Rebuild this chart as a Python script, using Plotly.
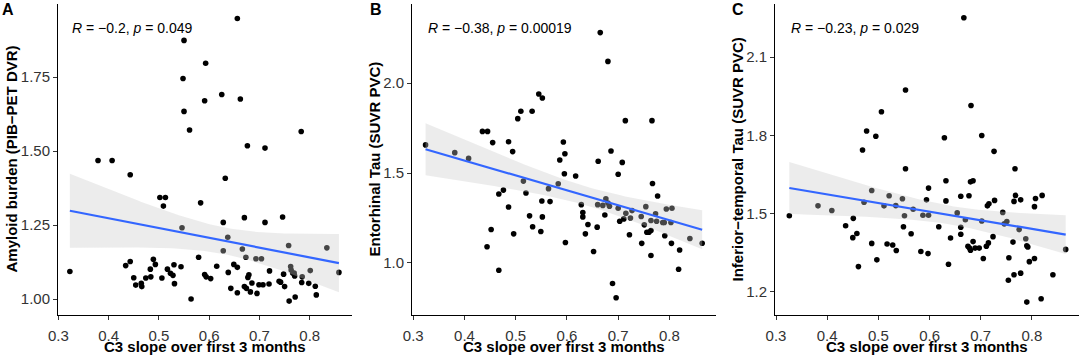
import numpy as np
import plotly.graph_objects as go

# ---------------- data ----------------
a_x = [0.379, 0.407, 0.443, 0.550, 0.548, 0.550, 0.561, 0.593, 0.591, 0.625, 0.656, 0.662, 0.676, 0.711, 0.783,
       0.632, 0.502, 0.513, 0.509, 0.583, 0.670, 0.628, 0.711, 0.746, 0.546, 0.637, 0.628, 0.666, 0.758, 0.834,
       0.673, 0.693, 0.704, 0.579, 0.323, 0.434, 0.443, 0.450, 0.454, 0.466, 0.474, 0.484, 0.489, 0.493, 0.483,
       0.506, 0.517, 0.523, 0.528, 0.530, 0.531, 0.544, 0.564, 0.591, 0.594, 0.603, 0.615, 0.638, 0.649, 0.656,
       0.643, 0.656, 0.670, 0.674, 0.677, 0.679, 0.682, 0.685, 0.695, 0.699, 0.707, 0.720, 0.719, 0.739, 0.742,
       0.748, 0.750, 0.759, 0.762, 0.763, 0.766, 0.769, 0.770, 0.771, 0.785, 0.784, 0.801, 0.798, 0.811, 0.813,
       0.858, 0.465]
a_y = [1.468, 1.468, 1.420, 1.874, 1.745, 1.634, 1.571, 1.797, 1.670, 1.691, 1.948, 1.676, 1.518, 1.510, 1.566,
       1.408, 1.343, 1.343, 1.314, 1.325, 1.275, 1.259, 1.259, 1.277, 1.241, 1.209, 1.163, 1.169, 1.181, 1.173,
       1.141, 1.136, 1.136, 1.141, 1.093, 1.113, 1.127, 1.072, 1.047, 1.042, 1.071, 1.075, 1.134, 1.117, 1.101,
       1.071, 1.101, 1.087, 1.080, 1.116, 1.052, 1.109, 1.000, 1.083, 1.075, 1.069, 1.111, 1.090, 1.117, 1.107,
       1.036, 1.021, 1.042, 1.036, 1.073, 1.082, 1.024, 1.054, 1.019, 1.048, 1.048, 1.095, 1.051, 1.060, 1.057,
       1.084, 1.042, 0.993, 1.110, 1.098, 1.088, 1.088, 1.078, 1.007, 1.075, 1.056, 1.096, 1.053, 1.043, 1.014,
       1.090, 1.053]

b_x = [0.324, 0.381, 0.408, 0.435, 0.445, 0.455, 0.486, 0.494, 0.504, 0.510, 0.532, 0.545, 0.552, 0.593, 0.596,
       0.586, 0.595, 0.617, 0.665, 0.680, 0.661, 0.686, 0.700, 0.708, 0.714, 0.766, 0.444, 0.452, 0.467, 0.467,
       0.476, 0.486, 0.496, 0.515, 0.520, 0.527, 0.533, 0.551, 0.552, 0.549, 0.564, 0.567, 0.583, 0.597, 0.628,
       0.631, 0.631, 0.636, 0.641, 0.652, 0.659, 0.660, 0.670, 0.676, 0.680, 0.674, 0.683, 0.689, 0.696, 0.700,
       0.703, 0.711, 0.715, 0.724, 0.722, 0.727, 0.745, 0.746, 0.751, 0.754, 0.756, 0.760, 0.764, 0.764, 0.764,
       0.767, 0.773, 0.775, 0.777, 0.787, 0.790, 0.791, 0.794, 0.803, 0.805, 0.804, 0.818, 0.820, 0.840, 0.864]
b_y = [1.656, 1.613, 1.581, 1.731, 1.731, 1.669, 1.674, 1.619, 1.802, 1.843, 1.843, 1.939, 1.917, 1.672, 1.607,
       1.572, 1.496, 1.483, 2.280, 2.120, 1.565, 1.622, 1.493, 1.559, 1.791, 1.791, 1.090, 1.186, 0.960, 1.383,
       1.405, 1.311, 1.162, 1.455, 1.389, 1.262, 1.201, 1.344, 1.256, 1.175, 1.413, 1.341, 1.440, 1.114, 1.324,
       1.280, 1.256, 1.162, 1.214, 1.064, 1.199, 1.324, 1.320, 1.357, 1.333, 1.267, 1.315, 0.886, 0.807, 1.304,
       1.232, 1.245, 1.276, 1.250, 1.157, 1.291, 1.258, 1.109, 1.212, 1.313, 1.171, 1.171, 1.236, 1.180, 1.042,
       1.442, 1.273, 1.232, 1.372, 1.225, 1.225, 1.151, 1.300, 1.225, 1.304, 1.109, 0.965, 1.072, 1.136, 1.110]

c_x = [0.667, 0.553, 0.681, 0.506, 0.477, 0.495, 0.629, 0.702, 0.469, 0.726, 0.553, 0.767, 0.326, 0.382, 0.409,
       0.436, 0.451, 0.450, 0.458, 0.461, 0.472, 0.487, 0.487, 0.497, 0.511, 0.517, 0.521, 0.528, 0.534, 0.535,
       0.547, 0.551, 0.549, 0.564, 0.568, 0.583, 0.587, 0.594, 0.598, 0.597, 0.598, 0.618, 0.632, 0.632, 0.637,
       0.641, 0.654, 0.661, 0.661, 0.661, 0.670, 0.675, 0.678, 0.680, 0.677, 0.680, 0.685, 0.685, 0.689, 0.697,
       0.702, 0.705, 0.711, 0.713, 0.716, 0.715, 0.724, 0.727, 0.743, 0.746, 0.751, 0.755, 0.754, 0.763, 0.765,
       0.765, 0.768, 0.775, 0.778, 0.778, 0.788, 0.790, 0.792, 0.790, 0.795, 0.805, 0.805, 0.807, 0.818, 0.820,
       0.841, 0.866]
c_y = [2.251, 1.974, 1.915, 1.891, 1.817, 1.797, 1.791, 1.800, 1.744, 1.739, 1.672, 1.672, 1.492, 1.530, 1.512,
       1.454, 1.482, 1.408, 1.424, 1.297, 1.544, 1.589, 1.386, 1.323, 1.530, 1.384, 1.569, 1.380, 1.531, 1.359,
       1.557, 1.492, 1.450, 1.423, 1.517, 1.355, 1.494, 1.553, 1.598, 1.347, 1.494, 1.450, 1.626, 1.549, 1.306,
       1.407, 1.503, 1.567, 1.421, 1.448, 1.477, 1.375, 1.368, 1.360, 1.569, 1.622, 1.626, 1.393, 1.368, 1.368,
       1.472, 1.328, 1.375, 1.530, 1.538, 1.388, 1.412, 1.551, 1.505, 1.461, 1.470, 1.331, 1.245, 1.391, 1.266,
       1.547, 1.570, 1.439, 1.272, 1.553, 1.404, 1.377, 1.372, 1.161, 1.316, 1.328, 1.527, 1.558, 1.174, 1.570,
       1.266, 1.363]

panel_letters = ["A", "B", "C"]
y_titles = ["Amyloid burden (PIB\u2212PET DVR)", "Entorhinal Tau (SUVR PVC)",
            "Inferior\u2212temporal Tau (SUVR PVC)"]
x_title = "C3 slope over first 3 months"
stat_r = ["\u22120.2", "\u22120.38", "\u22120.23"]
stat_p = ["0.049", "0.00019", "0.029"]
x_ticks = [0.3, 0.4, 0.5, 0.6, 0.7, 0.8]
y_ticks = [[1.00, 1.25, 1.50, 1.75], [1.0, 1.5, 2.0], [1.2, 1.5, 1.8, 2.1]]
y_fmt = [".2f", ".1f", ".1f"]

# ---------------- layout geometry ----------------
W, H = 1084, 355
x_domains = [(58 / W, 352 / W), (412 / W, 716 / W), (775 / W, 1079 / W)]
y_domain = (1 - 315 / H, 1 - 4 / H)
x_ranges = [(0.2994, 0.884), (0.2975, 0.891), (0.298, 0.892)]
y_ranges = [(0.946, 1.997), (0.711, 2.439), (1.1115, 2.304)]
ytitle_x = [11 / W, 374 / W, 737 / W]
letter_x = [8 / W, 376 / W, 738 / W]

FONT = "Liberation Sans, Arial, Helvetica, sans-serif"
fig = go.Figure()

datasets = [(a_x, a_y), (b_x, b_y), (c_x, c_y)]
for i, (xs, ys) in enumerate(datasets):
    xs = np.array(xs)
    ys = np.array(ys)
    ax = "" if i == 0 else str(i + 1)
    xa, ya = "x" + ax, "y" + ax
    # points
    fig.add_trace(go.Scatter(x=xs, y=ys, mode="markers", xaxis=xa, yaxis=ya,
                             marker=dict(color="black", size=5.6, line=dict(width=0)),
                             showlegend=False, hoverinfo="skip"))
    # linear fit with 95% CI
    n = len(xs)
    slope, intercept = np.polyfit(xs, ys, 1)
    resid = ys - (slope * xs + intercept)
    s = np.sqrt(np.sum(resid ** 2) / (n - 2))
    xbar = xs.mean()
    sxx = np.sum((xs - xbar) ** 2)
    gx = np.linspace(xs.min(), xs.max(), 80)
    gy = slope * gx + intercept
    se = s * np.sqrt(1 / n + (gx - xbar) ** 2 / sxx)
    tq = 1.988
    up, lo = gy + tq * se, gy - tq * se
    fig.add_trace(go.Scatter(x=np.concatenate([gx, gx[::-1]]), y=np.concatenate([up, lo[::-1]]),
                             mode="lines", fill="toself", fillcolor="rgba(200,200,200,0.35)",
                             line=dict(width=0), xaxis=xa, yaxis=ya, showlegend=False, hoverinfo="skip"))
    fig.add_trace(go.Scatter(x=gx, y=gy, mode="lines", line=dict(color="#3366FF", width=2.2),
                             xaxis=xa, yaxis=ya, showlegend=False, hoverinfo="skip"))

    axis_common = dict(showline=True, linecolor="black", linewidth=1, ticks="outside", ticklen=4,
                       tickwidth=1, tickcolor="#333333", showgrid=False, zeroline=False, automargin=False,
                       tickfont=dict(family=FONT, size=15, color="#333333"))
    fig.update_layout({
        "xaxis" + ax: dict(domain=list(x_domains[i]), range=list(x_ranges[i]), anchor=ya,
                           tickvals=x_ticks, tickformat=".1f", ticklabelstandoff=3, **axis_common),
        "yaxis" + ax: dict(domain=list(y_domain), range=list(y_ranges[i]), anchor=xa,
                           tickvals=y_ticks[i], tickformat=y_fmt[i], **axis_common),
    })
    # x title
    fig.add_annotation(text="<b>" + x_title + "</b>", xref="paper", yref="paper",
                       x=(x_domains[i][0] + x_domains[i][1]) / 2, y=1 - 346 / H, showarrow=False,
                       xanchor="center", yanchor="middle", font=dict(family=FONT, size=15, color="black"))
    # y title
    fig.add_annotation(text="<b>" + y_titles[i] + "</b>", xref="paper", yref="paper",
                       x=ytitle_x[i], y=(y_domain[0] + y_domain[1]) / 2, textangle=-90,
                       showarrow=False, xanchor="center", yanchor="middle",
                       font=dict(family=FONT, size=15, color="black"))
    # panel letter
    fig.add_annotation(text="<b>" + panel_letters[i] + "</b>", xref="paper", yref="paper",
                       x=letter_x[i], y=1 - 10 / H, showarrow=False, xanchor="center", yanchor="middle",
                       font=dict(family=FONT, size=16, color="black"))
    # stats text
    fig.add_annotation(text="<i>R</i> = " + stat_r[i] + ", <i>p</i> = " + stat_p[i],
                       xref=xa, yref="paper", x=float(xs.min()), y=1 - 28 / H, showarrow=False,
                       xanchor="left", yanchor="middle", font=dict(family=FONT, size=14, color="black"))

fig.update_layout(width=W, height=H, margin=dict(l=0, r=0, t=0, b=0),
                  paper_bgcolor="white", plot_bgcolor="white")

fig.write_html("out.html", config={"displayModeBar": False},
               post_script="document.body.style.margin='0';document.body.style.overflow='hidden';")
